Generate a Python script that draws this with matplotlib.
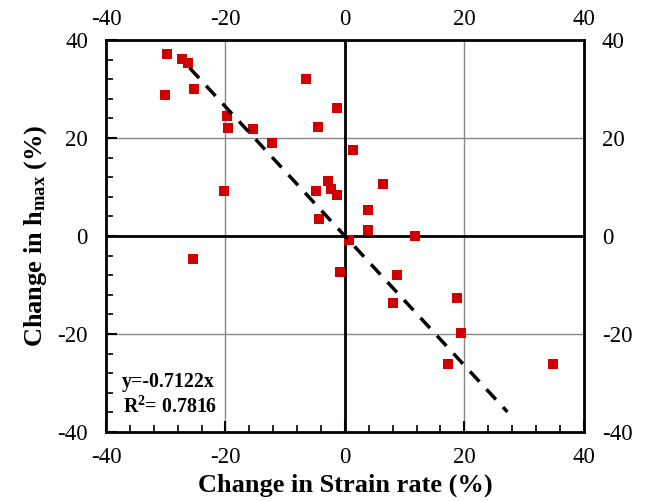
import matplotlib
matplotlib.use("Agg")
import matplotlib.pyplot as plt
from matplotlib.ticker import MultipleLocator
import numpy as np

strain_change = [-29.8, -30.2, -27.3, -26.2, -25.2, -19.8, -19.6, -15.4, -12.2, -20.3, -25.4,
                 -6.5, -1.4, -4.45, 1.4, -2.9, -2.3, -1.4, -4.8, -4.4, 0.6, -0.8,
                 6.3, 3.8, 3.8, 11.8, 8.8, 8.1, 18.7, 19.5, 17.3, 34.8]
hmax_change = [37.2, 28.8, 36.2, 35.3, 30.1, 24.5, 22.0, 21.8, 19.0, 9.1, -4.7,
               32.1, 26.1, 22.2, 17.5, 11.3, 9.6, 8.3, 9.2, 3.5, -0.8, -7.4,
               10.6, 5.3, 1.2, 0.1, -7.9, -13.6, -12.6, -19.7, -26.1, -26.1]
fit_slope = -1.32
fit_x_range = [-26.0, 27.2]
ticks = [-40, -20, 0, 20, 40]
eq_text = "y=-0.7122x"
r2_text = "R$^{2}$= 0.7816"

plt.rcParams['font.family'] = ['Liberation Serif', 'DejaVu Serif']
plt.rcParams['axes.unicode_minus'] = False
plt.rcParams['mathtext.fontset'] = 'custom'
plt.rcParams['mathtext.rm'] = 'Liberation Serif:bold'
plt.rcParams['mathtext.it'] = 'Liberation Serif:bold'
plt.rcParams['mathtext.bf'] = 'Liberation Serif:bold'

fig = plt.figure(figsize=(6.48, 5.01), dpi=100)
ax = fig.add_axes([0.1636, 0.1377, 0.901 - 0.1636, 0.920 - 0.1377])

ax.set_xlim(-40, 40)
ax.set_ylim(-40, 40)
for v in [-20, 20]:
    ax.axvline(v, color='#888888', lw=1.0, zorder=1)
    ax.axhline(v, color='#888888', lw=1.0, zorder=1)
ax.axvline(0, color='black', lw=2.0, zorder=1)
ax.axhline(0, color='black', lw=2.0, zorder=1)

ax.plot(strain_change, hmax_change, 's', color='#D00000', markersize=7.2,
        markeredgewidth=0, zorder=3)

fx = np.array(fit_x_range)
ax.plot(fx, fit_slope * fx, color='black', lw=2.5, dashes=(4, 3), zorder=4)

ax.set_xticks(ticks)
ax.set_yticks(ticks)
ax.xaxis.set_minor_locator(MultipleLocator(4))
ax.yaxis.set_minor_locator(MultipleLocator(4))
ax.tick_params(which='major', direction='in', length=8, width=1.5,
               labelsize=16.5, top=False, right=False)
ax.tick_params(axis='x', which='major', pad=11)
ax.tick_params(axis='y', which='major', pad=13, labelright=True)
ax.tick_params(which='minor', direction='in', length=5, width=1.2,
               top=False, right=False)
for s in ax.spines.values():
    s.set_linewidth(2.0)

top = ax.secondary_xaxis('top')
top.set_xticks(ticks)
top.tick_params(length=0, labelsize=16.5, pad=7)
top.spines['top'].set_visible(False)

ax.set_xlabel("Change in Strain rate (%)", fontsize=19, fontweight='bold', labelpad=4)
ax.set_ylabel("Change in h$_{\\mathrm{max}}$ (%)", fontsize=19, fontweight='bold', labelpad=6)

ax.text(0.033, 0.115, eq_text, transform=ax.transAxes, fontsize=14.3, fontweight='bold')
ax.text(0.036, 0.05, r2_text, transform=ax.transAxes, fontsize=14.3, fontweight='bold')

fig.savefig("out.png", dpi=100)
